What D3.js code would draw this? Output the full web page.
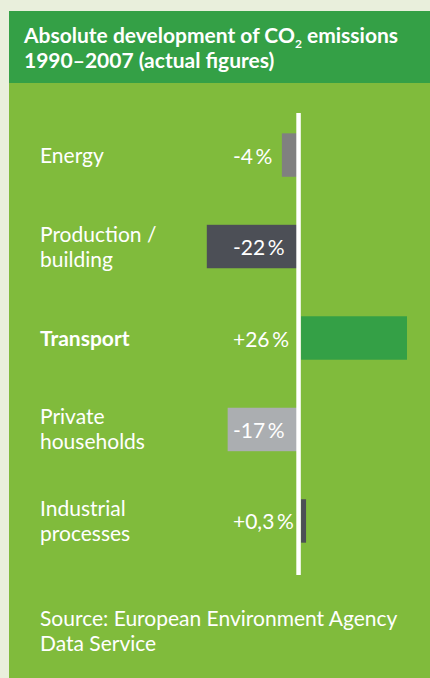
<!DOCTYPE html>
<html>
<head>
<meta charset="utf-8">
<script src="https://cdn.jsdelivr.net/npm/d3@7"></script>
<style>
  body { margin: 0; background: #e9efdc; }
  svg { display: block; }
</style>
</head>
<body>
<div id="chart"></div>
<script>
// Data
var categories = ["Energy", "Production/building", "Transport", "Private households", "Industrial processes"];
var categoryLines = [["Energy"], ["Production /", "building"], ["Transport"], ["Private", "households"], ["Industrial", "processes"]];
var changes = [-4, -22, 26, -17, 0.3];
var valueLabels = ["-4\u2009%", "-22\u2009%", "+26\u2009%", "-17\u2009%", "+0,3\u2009%"];
var barColors = ["#808080", "#4c4f56", "#34a046", "#abaeb1", "#4c4f56"];

var svgWidth = 430;
var svgHeight = 678;
var fontFamily = "Lato, 'Open Sans', sans-serif";

var svg = d3.select("#chart")
    .append("svg")
    .attr("width", svgWidth)
    .attr("height", svgHeight);

// Panel background
svg.append("rect")
    .attr("x", 9).attr("y", 11)
    .attr("width", svgWidth - 9).attr("height", svgHeight - 11)
    .attr("fill", "#80bb3c");

svg.append("rect")
    .attr("x", 9).attr("y", 11)
    .attr("width", svgWidth - 9).attr("height", 72)
    .attr("fill", "#34a046");

// Title
var title = svg.append("text")
    .attr("fill", "#fff")
    .style("font-family", fontFamily)
    .style("font-weight", "bold")
    .style("font-size", "21px");

var line1 = title.append("tspan").attr("x", 24).attr("y", 43);
line1.append("tspan").text("Absolute development of CO");
line1.append("tspan").attr("dy", 5).style("font-size", "12px").text("2");
line1.append("tspan").attr("dy", -5).text(" emissions");
title.append("tspan").attr("x", 24).attr("y", 68).text("1990\u20132007 (actual figures)");

// Scales
var xScale = d3.scaleLinear()
    .domain([-22, 26])
    .range([206.8, 407]);

var yScale = d3.scaleBand()
    .domain(categories)
    .range([110, 566])
    .paddingInner(0.525)
    .paddingOuter(0.255);

var x0 = xScale(0);

// Bars
var rows = svg.selectAll(".row")
    .data(categories)
    .enter()
    .append("g")
    .attr("class", "row");

rows.append("rect")
    .attr("x", (d, i) => changes[i] < 0 ? xScale(changes[i]) : x0 + 2.5)
    .attr("y", d => yScale(d))
    .attr("width", (d, i) => changes[i] < 0 ? x0 - xScale(changes[i]) : Math.max(5, xScale(changes[i]) - x0 - 2.5))
    .attr("height", yScale.bandwidth())
    .attr("fill", (d, i) => barColors[i]);

// Zero line
svg.append("line")
    .attr("x1", x0).attr("x2", x0)
    .attr("y1", 113).attr("y2", 575)
    .attr("stroke", "#fff")
    .attr("stroke-width", 4.5);

// Value labels
rows.append("text")
    .attr("x", 233)
    .attr("y", d => yScale(d) + yScale.bandwidth() / 2 + 8.5)
    .attr("fill", "#fff")
    .style("font-family", fontFamily)
    .style("font-size", "21px")
    .text((d, i) => valueLabels[i]);

// Category labels
rows.append("text")
    .attr("fill", "#fff")
    .style("font-family", fontFamily)
    .style("font-size", "21px")
    .style("font-weight", d => d === "Transport" ? "bold" : "normal")
    .each(function (d, i) {
        var lines = categoryLines[i];
        var mid = yScale(d) + yScale.bandwidth() / 2;
        var top = lines.length === 1 ? mid + 8 : mid - 5;
        d3.select(this).selectAll("tspan")
            .data(lines)
            .enter()
            .append("tspan")
            .attr("x", 40)
            .attr("y", (t, j) => top + j * 25)
            .text(t => t);
    });

// Source
var source = svg.append("text")
    .attr("fill", "#fff")
    .style("font-family", fontFamily)
    .style("font-size", "21px");

source.append("tspan").attr("x", 40).attr("y", 626).text("Source: European Environment Agency");
source.append("tspan").attr("x", 40).attr("y", 651).text("Data Service");
</script>
</body>
</html>
